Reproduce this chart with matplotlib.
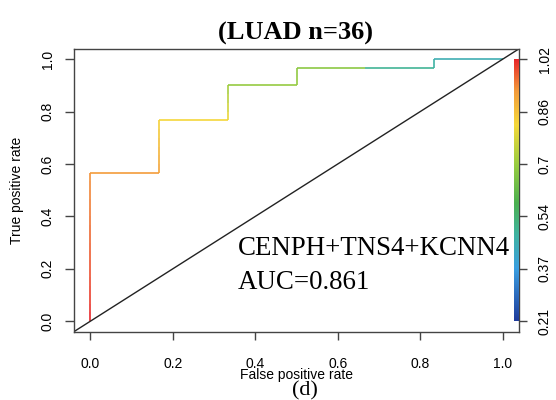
import numpy as np
import matplotlib
matplotlib.use("Agg")
from matplotlib import pyplot as plt
from matplotlib.colors import LinearSegmentedColormap, Normalize
from matplotlib.collections import LineCollection

# classifier scores (sorted high to low) and true labels, 30 positives / 6 negatives
scores = [1.02, 1.01, 1.00, 0.995, 0.99, 0.985, 0.98, 0.975, 0.97, 0.965, 0.96,
          0.955, 0.95, 0.945, 0.94, 0.935, 0.93,
          0.92,
          0.905, 0.89, 0.875, 0.86, 0.845, 0.83,
          0.82,
          0.80, 0.77, 0.74, 0.71,
          0.69,
          0.685, 0.68,
          0.675,
          0.49,
          0.47,
          0.45]
labels = [1] * 17 + [0] + [1] * 6 + [0] + [1] * 4 + [0] + [1] * 2 + [0, 0] + [1] + [0]

cut_min, cut_max = 0.21, 1.02
cbar_ticks = [0.0, 0.2, 0.4, 0.6, 0.8, 1.0]
cbar_labels = ["0.21", "0.37", "0.54", "0.7", "0.86", "1.02"]
axis_ticks = [0.0, 0.2, 0.4, 0.6, 0.8, 1.0]
title = "(LUAD n=36)"
model_name = "CENPH+TNS4+KCNN4"
auc_text = "AUC=0.861"

# ROC points
lab = np.array(labels)
tpr = np.concatenate([[0], np.cumsum(lab) / lab.sum()])
fpr = np.concatenate([[0], np.cumsum(1 - lab) / (1 - lab).sum()])

# rainbow palette as it looks in the picture: blue = low cutoff, red = high
cmap = LinearSegmentedColormap.from_list("roc_rainbow", [
    (0.0, "#1f3c9c"), (0.2, "#3a9ee0"), (0.33, "#3fb3a0"), (0.45, "#4cb050"),
    (0.6, "#9acd40"), (0.75, "#f5d83a"), (0.88, "#f39a3a"), (1.0, "#e8262a")])
norm = Normalize(cut_min, cut_max)

plt.rcParams["font.family"] = ["Liberation Sans", "DejaVu Sans"]
fig = plt.figure(figsize=(5.56, 4.0), dpi=100)
ax = fig.add_axes([0.1331, 0.171, 0.8004, 0.707])

pts = np.column_stack([fpr, tpr])
segs = np.stack([pts[:-1], pts[1:]], axis=1)
lc = LineCollection(segs, colors=cmap(norm(np.array(scores))), linewidths=1.4, alpha=0.85)
ax.add_collection(lc)

ax.axline((0, 0), slope=1, color="#222222", lw=1)

# colour bar drawn inside the plot, on the right edge
ax.imshow(np.linspace(0, 1, 256).reshape(-1, 1), cmap=cmap, origin="lower",
          extent=[1.029, 1.04, 0, 1], aspect="auto", zorder=3)
ax.set_xlim(-0.04, 1.04)
ax.set_ylim(-0.04, 1.04)

for s in ax.spines.values():
    s.set_color("#444444")
    s.set_linewidth(1)

ax.set_xticks(axis_ticks)
ax.set_xticklabels(["%.1f" % t for t in axis_ticks])
ax.set_yticks(axis_ticks)
ax.set_yticklabels(["%.1f" % t for t in axis_ticks], rotation=90, va="center")
ax.tick_params(axis="x", length=6, width=1, color="#444444", pad=12, labelsize=10)
ax.tick_params(axis="y", length=6.5, width=1, color="#444444", pad=7.5, labelsize=10)

ax2 = ax.twinx()
ax2.set_ylim(-0.04, 1.04)
ax2.set_yticks(cbar_ticks)
ax2.set_yticklabels(cbar_labels, rotation=90, va="center")
ax2.tick_params(axis="y", length=6, width=1, color="#444444", pad=7.5, labelsize=10)
for s in ax2.spines.values():
    s.set_visible(False)

ax.text(0.358, 0.254, model_name, family="Liberation Serif", fontsize=19.4, va="baseline")
ax.text(0.358, 0.121, auc_text, family="Liberation Serif", fontsize=19.4, va="baseline")

fig.text(296 / 556, 1 - 33 / 400, title, family="Liberation Serif", weight="bold",
         fontsize=19, ha="center", va="center")
fig.text(296 / 556, 1 - 375 / 400, "False positive rate", fontsize=10, ha="center", va="center")
fig.text(17 / 556, 1 - 190 / 400, "True positive rate", fontsize=10, ha="center",
         va="center", rotation=90)
fig.text(305 / 556, 1 - 391 / 400, "(d)", family="Liberation Serif", fontsize=16,
         ha="center", va="center")

fig.savefig("out.png", dpi=100)
